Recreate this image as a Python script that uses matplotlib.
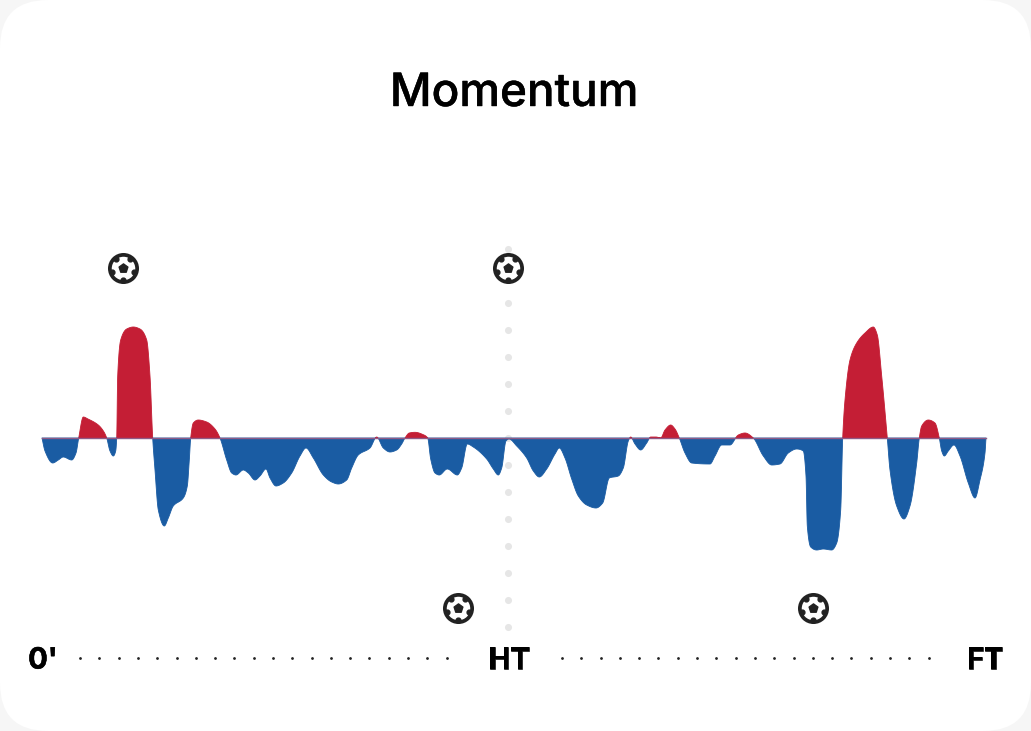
import numpy as np
import matplotlib
matplotlib.use("Agg")
import matplotlib.pyplot as plt
import matplotlib.patheffects as pe
from matplotlib.patches import FancyBboxPatch

# match position along the time axis and momentum value
pos = [0, 3, 10.7, 16.3, 21.3, 29.7, 34, 36.7, 41.3, 46, 56.3, 62, 64.7, 68, 71.3, 73.7, 74.7,
       75.7, 78.7, 84.7, 91.3, 98, 104.7, 108, 110.7, 113, 116.3, 122.3, 126.3, 131.3, 141.3,
       145.3, 147.3, 148.7, 151.3, 156.3, 164.7, 173, 178, 184.7, 189.7, 194, 201.3, 206.3, 213,
       218, 224, 228, 234, 241.3, 249.7, 258, 264, 271.3, 281.3, 289.7, 296.3, 304.7, 309.7,
       316.3, 328, 334.7, 341.3, 348, 354.7, 359.7, 363, 367.3, 373, 381.3, 385.7, 388.7, 393,
       397.3, 405.3, 415.3, 419.7, 425.3, 431.3, 444.7, 451.3, 456.3, 459.7, 464, 467, 474.7,
       484.7, 491.3, 497.3, 504.7, 513, 517.3, 523, 529.7, 536.3, 544.7, 554, 560.7, 567.3,
       576.3, 581.3, 586.3, 588.7, 593, 598.7, 604.7, 608.7, 614, 618.7, 623, 628.7, 633, 637.3,
       643, 649.7, 668, 673, 679.7, 688, 696.3, 703, 711.3, 721.3, 729.7, 738, 746.3, 754.7,
       761.3, 764, 765.3, 768.7, 774.7, 781.3, 789.7, 794.7, 798.7, 800.7, 803, 808, 814.7, 823,
       831.3, 835.3, 839.7, 845.3, 848, 854.7, 862, 868, 874.7, 877.3, 879.7, 886.3, 893, 897.3,
       899.7, 902.3, 906.3, 912, 918, 926.3, 933, 938, 943, 944]
momentum = [0, -13, -25, -22, -19, -22, -15, 0, 21, 19, 13, 6, 0, -13, -18, -13, 0,
            62, 98, 109, 111, 109, 98, 62, 0, -32, -72, -88, -80, -68, -60,
            -48, -22, 0, 15, 18, 16, 9, 0, -22, -35, -37, -32, -35, -42,
            -38, -31, -40, -48, -45, -35, -18, -10, -20, -37, -44, -46, -42, -30,
            -17, -10, 1, -10, -14, -12, -6, 0, 5, 5.7, 3.3, 0, -21, -35,
            -37, -31, -37, -30, -6, -9, -21, -31, -37, -30, -3, -1, -8,
            -20, -33, -39, -31, -16, -10, -20, -41, -58, -67, -70, -65, -40,
            -38, -30, -3, 1, -6, -12, -5, 1, 1, 0, 8, 13, 9, 0,
            -15, -25, -26, -18, -7, -7, 3, 5, 0, -18, -27, -26, -15, -11,
            -13, -38, -88, -109, -112, -111, -112, -105, -72, 0, 38, 78, 95, 105,
            111, 103, 62, 0, -32, -68, -81, -68, -25, 0, 12, 18, 15, 0,
            -13, -18, -13, -7, -18, -45, -60, -42, -15, 0]

goals_top = [81, 466]
goals_bottom = [416, 771]
period_labels = ["0'", "HT", "FT"]
period_pos = [1, 467, 943]

RED = "#c41e35"
BLUE = "#1a5ca3"
DARK = "#222222"


def smooth(x, y, n=12):
    # monotone cubic between the read points, only so the edge draws as a curve
    x = np.array(x, float)
    y = np.array(y, float)
    h = np.diff(x)
    s = np.diff(y) / h
    d = np.zeros_like(y)
    same = s[:-1] * s[1:] > 0
    w1 = 2 * h[1:] + h[:-1]
    w2 = h[1:] + 2 * h[:-1]
    d[1:-1][same] = ((w1 + w2) / (w1 / s[:-1] + w2 / s[1:]))[same]
    d[0], d[-1] = s[0], s[-1]
    t = np.linspace(0, 1, n, endpoint=False)[:, None]
    xs = (x[:-1] + t * h[None, :]).ravel(order="F")
    ys = ((2*t**3 - 3*t**2 + 1) * y[:-1] + (t**3 - 2*t**2 + t) * h * d[:-1]
          + (-2*t**3 + 3*t**2) * y[1:] + (t**3 - t**2) * h * d[1:]).ravel(order="F")
    return np.append(xs, x[-1]), np.append(ys, y[-1])


def ball(ax, x, y):
    ax.scatter([x], [y], s=385, facecolor="white", edgecolor=DARK, linewidth=2.7, zorder=5)
    ax.scatter([x], [y], s=44, marker="p", color=DARK, zorder=6)
    ang = np.deg2rad(90 + 36 + 72 * np.arange(5))
    ax.scatter(x + 11.5 * np.cos(ang), y + 11.5 * np.sin(ang), s=12, marker="o", color=DARK, zorder=6)


fig = plt.figure(figsize=(10.31, 7.31), dpi=100, facecolor="#f6f6f6")
ax = fig.add_axes([0, 0, 1, 1])
ax.set_xlim(-42, 989)
ax.set_ylim(-293, 438)
ax.axis("off")

ax.add_patch(FancyBboxPatch((-42, -293), 1031, 731, boxstyle="round,pad=0,rounding_size=48",
                            facecolor="white", edgecolor="none", zorder=0))

# half time dots
ax.scatter(np.full(15, 466), np.arange(-189, 190, 27), s=26, color="#e6e6e6", linewidth=0, zorder=1)

xs, ys = smooth(pos, momentum)
ax.fill_between(xs, 0, ys, where=ys >= 0, interpolate=True, color=RED, linewidth=0.6, zorder=2)
ax.fill_between(xs, 0, ys, where=ys <= 0, interpolate=True, color=BLUE, linewidth=0.6, zorder=2)
ax.plot([0, 944], [0, 0], color="#8f5a86", lw=1, zorder=3)

for g in goals_top:
    ball(ax, g, 170)
for g in goals_bottom:
    ball(ax, g, -170)

# dotted time axis
ax.scatter(np.arange(38, 406, 19.3), np.full(20, -220), s=4, color=DARK, linewidth=0)
ax.scatter(np.arange(520, 888, 19.3), np.full(20, -220), s=4, color=DARK, linewidth=0)

for lab, p in zip(period_labels, period_pos):
    ax.text(p, -223, lab, ha="center", va="center", fontsize=21, fontweight="bold",
            family="Inter", color="black",
            path_effects=[pe.withStroke(linewidth=0.4, foreground="black")])
ax.text(472, 344, "Momentum", ha="center", va="center", fontsize=33, fontweight="medium",
        family="Inter", color="black",
        path_effects=[pe.withStroke(linewidth=0.3, foreground="black")])

fig.savefig("out.png", dpi=100, facecolor=fig.get_facecolor())
